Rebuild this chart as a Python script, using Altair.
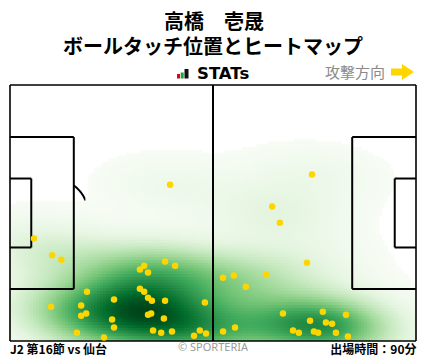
import altair as alt
import pandas as pd
import numpy as np

# ---- data (metres on a 105 x 68 pitch, y from top touchline)
touch_x = [41.4, 78.1, 67.8, 69.8, 6.2, 10.9, 13.3, 40.1, 42.7, 34.7, 33.6, 35.7,
           76.8, 55.1, 57.9, 66.2, 61.0, 19.9, 33.6, 34.7, 35.7, 36.7, 26.9, 40.1,
           50.4, 10.6, 18.4, 18.4, 19.7, 35.7, 36.5, 26.4, 39.8, 26.9, 17.3, 37.0,
           39.1, 41.9, 49.1, 47.6, 50.7, 24.3, 70.6, 80.9, 86.9, 77.6, 81.7, 83.3,
           55.1, 58.2, 73.2, 74.7, 78.6, 79.7, 84.3, 87.4]
touch_y = [26.5, 23.8, 32.3, 36.6, 40.8, 45.2, 46.4, 46.9, 48.0, 48.0, 49.0, 49.8,
           47.2, 51.2, 50.6, 50.4, 53.6, 54.9, 54.1, 54.9, 56.5, 57.3, 57.0, 57.3,
           57.8, 58.9, 58.6, 61.3, 60.7, 61.0, 60.7, 62.3, 62.0, 64.4, 65.8, 65.2,
           65.8, 65.5, 65.2, 66.6, 66.0, 67.1, 60.7, 60.2, 61.0, 62.6, 63.1, 63.4,
           65.5, 64.4, 65.2, 65.8, 65.5, 65.8, 65.8, 66.8]

title_lines = ["高橋　壱晟", "ボールタッチ位置とヒートマップ"]
footer_left = "J2 第16節 vs 仙台"
footer_mid = "© SPORTERIA"
footer_right = "出場時間：90分"
direction_label = "攻撃方向"
brand_label = "STATs"

greens9 = ["#f7fcf5", "#e5f5e0", "#c7e9c0", "#a1d99b", "#74c476",
           "#41ab5d", "#238b45", "#006d2c", "#00441b"]

PL, PW = 105.0, 68.0          # pitch length / width
PEN_D, PEN_W = 16.5, 40.32
GA_D, GA_W = 5.5, 18.32
SPOT, R = 11.0, 9.15

# ---- pitch line segments
def box(x0, depth, width, side):
    t, b = (PW - width) / 2, (PW + width) / 2
    xi = x0 + side * depth
    return [(x0, t, xi, t), (xi, t, xi, b), (xi, b, x0, b)]

segs = [(0, 0, PL, 0), (PL, 0, PL, PW), (PL, PW, 0, PW), (0, PW, 0, 0),
        (PL / 2, 0, PL / 2, PW)]
segs += box(0, PEN_D, PEN_W, 1) + box(PL, PEN_D, PEN_W, -1)
segs += box(0, GA_D, GA_W, 1) + box(PL, GA_D, GA_W, -1)
lines_df = pd.DataFrame(segs, columns=["x", "y", "x2", "y2"])

# ---- arcs (drawn under the heatmap)
arc_rows = []
a = np.arccos((PEN_D - SPOT) / R)
for k, t in enumerate(np.linspace(-a, a, 40)):
    arc_rows.append({"g": "L", "o": k, "x": SPOT + R * np.cos(t), "y": PW / 2 + R * np.sin(t)})
    arc_rows.append({"g": "R", "o": k, "x": PL - SPOT - R * np.cos(t), "y": PW / 2 + R * np.sin(t)})
for k, t in enumerate(np.linspace(0, 2 * np.pi, 90)):
    arc_rows.append({"g": "C", "o": k, "x": PL / 2 + R * np.cos(t), "y": PW / 2 + R * np.sin(t)})
arcs_df = pd.DataFrame(arc_rows)

# ---- 2D gaussian KDE of the touches (Scott bandwidth)
pts = np.array([touch_x, touch_y])
n = pts.shape[1]
fac = n ** (-1 / 6)
kcov = np.cov(pts) * fac ** 2
kinv = np.linalg.inv(kcov)
knorm = 1 / (2 * np.pi * np.sqrt(np.linalg.det(kcov)) * n)

def kde(gx, gy):
    dx = gx[..., None] - pts[0]
    dy = gy[..., None] - pts[1]
    q = kinv[0, 0] * dx * dx + 2 * kinv[0, 1] * dx * dy + kinv[1, 1] * dy * dy
    return np.exp(-0.5 * q).sum(-1) * knorm

cell = 0.75
cx = np.arange(0, PL, cell)
cy = np.arange(0, PW, cell)
CX, CY = np.meshgrid(cx, cy)
D = kde(CX + cell / 2, CY + cell / 2)
dmax = float(D.max())
level = 0.015 * dmax
mask = D >= level
heat_df = pd.DataFrame({
    "x": CX[mask], "x2": np.minimum(CX[mask] + cell * 1.35, PL),
    "y": CY[mask], "y2": np.minimum(CY[mask] + cell * 1.35, PW),
    "d": D[mask],
})
color_domain = [float(level + (dmax - level) * i / 8) for i in range(9)]

pts_df = pd.DataFrame({"x": touch_x, "y": touch_y})

xs = alt.Scale(domain=[0, PL], nice=False, zero=False)
ys = alt.Scale(domain=[0, PW], nice=False, zero=False, reverse=True)

arcs = alt.Chart(arcs_df).mark_line(color="black", strokeWidth=2).encode(
    x=alt.X("x:Q", scale=xs, axis=None),
    y=alt.Y("y:Q", scale=ys, axis=None),
    detail="g:N", order="o:Q")

heat = alt.Chart(heat_df).mark_rect(strokeWidth=0).encode(
    x=alt.X("x:Q", scale=xs, axis=None), x2="x2:Q",
    y=alt.Y("y:Q", scale=ys, axis=None), y2="y2:Q",
    color=alt.Color("d:Q", scale=alt.Scale(domain=color_domain, range=greens9,
                                           interpolate="rgb", clamp=True),
                    legend=None))

border = alt.Chart(lines_df.iloc[:4]).mark_rule(color="black", strokeWidth=1.6).encode(
    x=alt.X("x:Q", scale=xs, axis=None), x2="x2:Q",
    y=alt.Y("y:Q", scale=ys, axis=None), y2="y2:Q")
rules = alt.Chart(lines_df.iloc[4:]).mark_rule(color="black", strokeWidth=2).encode(
    x=alt.X("x:Q", scale=xs, axis=None), x2="x2:Q",
    y=alt.Y("y:Q", scale=ys, axis=None), y2="y2:Q")

dots = alt.Chart(pts_df).mark_circle(color="#FFD500", opacity=1, size=42).encode(
    x=alt.X("x:Q", scale=xs, axis=None),
    y=alt.Y("y:Q", scale=ys, axis=None))

JP = "Noto Sans CJK JP"

def txt(s, x, y, size, weight="bold", color="black", align="center", font=JP):
    return alt.Chart(pd.DataFrame({"t": [s]})).mark_text(
        fontSize=size, fontWeight=weight, color=color, align=align,
        baseline="middle", font=font).encode(
        text="t:N", x=alt.value(x), y=alt.value(y))

t1 = txt(title_lines[0], 204, -62, 20)
t2 = txt(title_lines[1], 203, -37, 20)
brand = txt(brand_label, 187, -11.5, 16.5, font="DejaVu Sans", align="left")
dirl = txt(direction_label, 315, -12.5, 15, weight="normal", color="#8a8a8a", align="left")
f1 = txt(footer_left, 0, 264.5, 12, align="left")
f2 = txt(footer_mid, 203, 263, 11, weight="normal", color="#9a9a9a", font="Noto Sans")
f3 = txt(footer_right, 406.5, 264.5, 12, align="right")

def bar(x0, x1, y0, y1, c):
    return alt.Chart(pd.DataFrame({"b": [1]})).mark_rect(color=c).encode(
        x=alt.value(x0), x2=alt.value(x1), y=alt.value(y0), y2=alt.value(y1))

logo = [bar(167, 170, -11, -6.5, "#e60012"),
        bar(170.7, 173.7, -12.5, -6.5, "#1fa23a"),
        bar(174.5, 178.5, -16, -6.5, "#111111")]

arrow_path = "M-1,-0.3 L-0.05,-0.3 L-0.05,-0.7 L1,0 L-0.05,0.7 L-0.05,0.3 L-1,0.3 Z"
arrow = alt.Chart(pd.DataFrame({"a": [1]})).mark_point(
    shape=arrow_path, filled=True, fill="#FFD500", strokeWidth=0,
    opacity=1, size=529).encode(x=alt.value(392.5), y=alt.value(-13))

chart = alt.layer(arcs, heat, border, rules, dots, t1, t2, brand, dirl, f1, f2, f3,
                  *logo, arrow).properties(
    width=406, height=256,
    autosize=alt.AutoSizeParams(type="none"),
    padding={"left": 2, "top": 77, "right": 4, "bottom": 17},
).configure_view(strokeWidth=0)

chart.save("out.html", embed_options={"renderer": "svg", "actions": False})
